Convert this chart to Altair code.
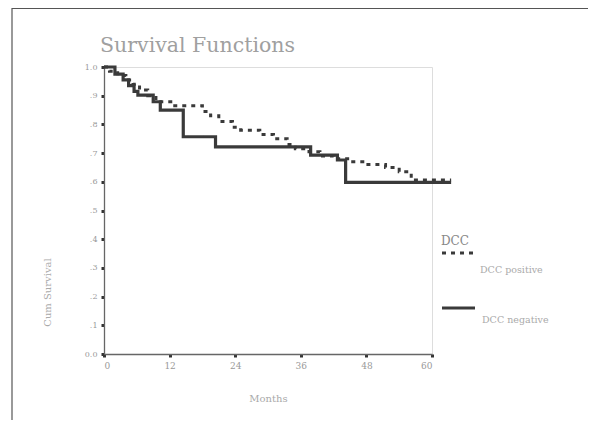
import altair as alt
import pandas as pd

# ---- data ----
chart_title = "Survival Functions"
groups = ["DCC positive", "DCC negative"]
legend_title = "DCC"

months_pos = [0, 1, 2.5, 4, 5.3, 6.5, 8, 9.5, 12.5, 18, 19.5, 21, 23.5, 25, 28.5, 31, 33.5,
              35, 37.5, 39.5, 42, 45.5, 48, 51.5, 54, 56.2, 63.5]
surv_pos = [1.0, 0.985, 0.97, 0.955, 0.94, 0.92, 0.90, 0.879, 0.865, 0.845, 0.83, 0.81, 0.79,
            0.78, 0.765, 0.75, 0.73, 0.715, 0.705, 0.69, 0.68, 0.67, 0.66, 0.65, 0.635, 0.606, 0.606]

months_neg = [0, 2, 3.5, 4.5, 5.5, 6.2, 9.0, 10.3, 14.5, 20.4, 37.8, 42.7, 44.2, 63.5]
surv_neg = [1.0, 0.975, 0.955, 0.935, 0.915, 0.902, 0.879, 0.85, 0.757, 0.722, 0.693, 0.676,
            0.598, 0.598]

x_ticks = [0, 12, 24, 36, 48, 60]
y_ticks = [0.0, 0.1, 0.2, 0.3, 0.4, 0.5, 0.6, 0.7, 0.8, 0.9, 1.0]

df = pd.concat([
    pd.DataFrame({"t": months_pos, "S": surv_pos, "group": groups[0]}),
    pd.DataFrame({"t": months_neg, "S": surv_neg, "group": groups[1]}),
])

SERIF = "DejaVu Serif"
W, H = 328, 287
PAD = {"left": 96, "top": 59, "right": 156, "bottom": 66}
LINE = "#3a3a3a"

x_axis = alt.Axis(values=x_ticks, title="Months", grid=False,
                  labelFont=SERIF, labelFontSize=9, labelColor="#999", labelPadding=4,
                  titleFont=SERIF, titleFontSize=10, titleColor="#aaa", titleFontWeight="normal",
                  titleY=39, domainColor="#666", domainWidth=1.3,
                  tickColor="#333", tickSize=3, tickWidth=3)
y_axis = alt.Axis(values=y_ticks, title="Cum Survival", grid=False,
                  labelExpr="datum.value == 1 ? '1.0' : (datum.value == 0 ? '0.0' : replace(format(datum.value, '.1f'), '0.', '.'))",
                  labelFont=SERIF, labelFontSize=8, labelColor="#999", labelPadding=4,
                  titleFont=SERIF, titleFontSize=10, titleColor="#aaa", titleFontWeight="normal",
                  titleX=-52, titleY=225, titleAlign="center",
                  domainColor="#666", domainWidth=1.3,
                  tickColor="#333", tickSize=3, tickWidth=3)

lines = alt.Chart(df).mark_line(interpolate="step-after", clip=False, color=LINE).encode(
    x=alt.X("t:Q", scale=alt.Scale(domain=[0, 60], nice=False, zero=False), axis=x_axis),
    y=alt.Y("S:Q", scale=alt.Scale(domain=[0, 1], nice=False), axis=y_axis),
    detail="group:N",
    strokeDash=alt.StrokeDash("group:N", scale=alt.Scale(domain=groups, range=[[4, 5], [1, 0]]), legend=None),
    strokeWidth=alt.StrokeWidth("group:N", scale=alt.Scale(domain=groups, range=[3, 3.2]), legend=None),
)

one = alt.Data(values=[{"k": 1}])

# chart title, placed as in the reference
title_mark = alt.Chart(pd.DataFrame({"label": [chart_title]})).mark_text(
    align="left", baseline="alphabetic", font=SERIF, fontSize=20.5, color="#a0a0a0").encode(
    x=alt.value(-4), y=alt.value(-15), text="label:N")

# outer frame of the picture (top and left edges)
frame_top = alt.Chart(one).mark_rule(color="#555", strokeWidth=1.2).encode(
    x=alt.value(-92), x2=alt.value(484), y=alt.value(-58.5))
frame_left = alt.Chart(one).mark_rule(color="#555", strokeWidth=1.2).encode(
    x=alt.value(-92), y=alt.value(-59), y2=alt.value(353))

# hand-placed legend as in the reference
leg_title = alt.Chart(pd.DataFrame({"label": [legend_title]})).mark_text(
    align="left", baseline="alphabetic", font=SERIF, fontSize=12, color="#888").encode(
    x=alt.value(337), y=alt.value(178), text="label:N")
sym_pos = alt.Chart(one).mark_rule(color=LINE, strokeWidth=3, strokeDash=[4, 5]).encode(
    x=alt.value(338), x2=alt.value(370), y=alt.value(186))
lab_pos = alt.Chart(pd.DataFrame({"label": [groups[0]]})).mark_text(
    align="left", baseline="alphabetic", font=SERIF, fontSize=9.5, color="#aaa").encode(
    x=alt.value(376), y=alt.value(206), text="label:N")
sym_neg = alt.Chart(one).mark_rule(color=LINE, strokeWidth=3.2).encode(
    x=alt.value(338), x2=alt.value(371), y=alt.value(241))
lab_neg = alt.Chart(pd.DataFrame({"label": [groups[1]]})).mark_text(
    align="left", baseline="alphabetic", font=SERIF, fontSize=9.5, color="#aaa").encode(
    x=alt.value(378), y=alt.value(256), text="label:N")

chart = alt.layer(
    lines, title_mark, frame_top, frame_left, leg_title, sym_pos, lab_pos, sym_neg, lab_neg
).properties(
    width=W, height=H,
    autosize=alt.AutoSizeParams(type="none"),
    padding=PAD,
).configure_view(stroke="#999", strokeWidth=1.2).configure(background="white")

chart.save("out.html", embed_options={"renderer": "svg", "actions": False})
